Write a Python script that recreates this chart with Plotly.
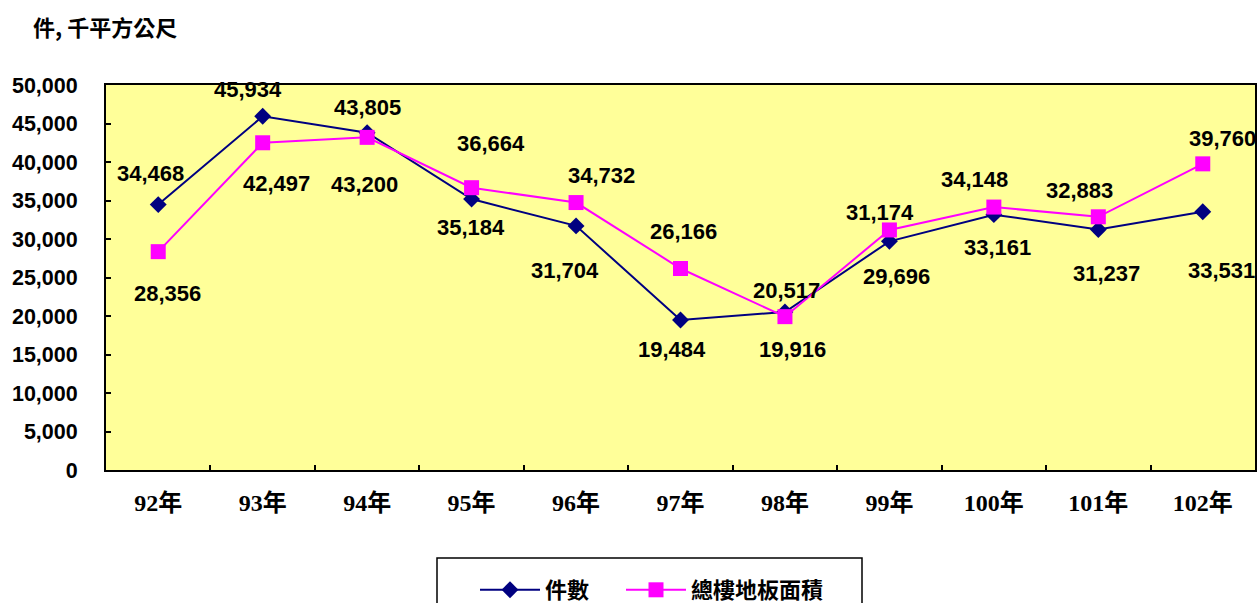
import plotly.graph_objects as go

categories = ["92年", "93年", "94年", "95年", "96年", "97年", "98年", "99年", "100年", "101年", "102年"]
cases = [34468, 45934, 43805, 35184, 31704, 19484, 20517, 29696, 33161, 31237, 33531]
floor_area = [28356, 42497, 43200, 36664, 34732, 26166, 19916, 31174, 34148, 32883, 39760]
series_names = ["件數", "總樓地板面積"]
y_ticks = [0, 5000, 10000, 15000, 20000, 25000, 30000, 35000, 40000, 45000, 50000]

# label offsets (pixels) for data labels
cases_dx = [-8, -15, 0, -1, -11, -9, 2, 7, 4, 8, 19]
cases_dy = [31, 27, 25, -28, -45, -30, 22, -35, -33, -44, -59]
area_dx = [9, 14, -3, 19, 25, 3, 8, -9, -19, -19, 20]
area_dy = [-42, -41, -47, 44, 27, 37, -33, 17, 28, 26, 25]

NUM_FONT = "Liberation Sans, Arial, Noto Sans CJK TC, sans-serif"
CAT_FONT = "Liberation Serif, Times New Roman, Noto Sans CJK TC, serif"
CJK_FONT = "Noto Sans CJK TC, sans-serif"

W, H = 1258, 603
ML, MR, MT, MB = 106, 3, 85, 133
PW, PH = W - ML - MR, H - MT - MB

fig = go.Figure()
fig.add_trace(go.Scatter(
    x=categories, y=cases, name=series_names[0], mode="lines+markers",
    line=dict(color="#000080", width=2),
    marker=dict(symbol="diamond", size=13, color="#000080"),
    legendwidth=71,
))
fig.add_trace(go.Scatter(
    x=categories, y=floor_area, name=series_names[1], mode="lines+markers",
    line=dict(color="#FF00FF", width=2),
    marker=dict(symbol="square", size=15, color="#FF00FF"),
    legendwidth=150,
))

annotations = []
for vals, dxs, dys in [(cases, cases_dx, cases_dy), (floor_area, area_dx, area_dy)]:
    for c, v, dx, dy in zip(categories, vals, dxs, dys):
        annotations.append(dict(
            x=c, y=v, xref="x", yref="y", text=f"{v:,}", showarrow=False,
            xanchor="center", yanchor="middle", xshift=dx, yshift=dy,
            font=dict(family=NUM_FONT, size=22, color="black", weight="bold"),
        ))

annotations.append(dict(
    xref="paper", yref="paper", x=(31 - ML) / PW, y=(H - MB - 26) / PH,
    xanchor="left", yanchor="middle", showarrow=False, text="件, 千平方公尺",
    font=dict(family=CJK_FONT, size=22, color="black", weight="bold"),
))

# legend frame
shapes = [dict(
    type="rect", xref="paper", yref="paper",
    x0=(437 - ML) / PW, x1=(862 - ML) / PW,
    y0=(H - MB - 558) / PH, y1=(H - MB - 640) / PH,
    line=dict(color="black", width=1.5), fillcolor="white", layer="above",
)]

fig.update_layout(
    width=W, height=H,
    margin=dict(l=ML, r=MR, t=MT, b=MB, autoexpand=False),
    paper_bgcolor="white", plot_bgcolor="#FFFF99",
    showlegend=True,
    legend=dict(
        orientation="h", xref="container", yref="container",
        x=475 / W, y=1 - 569 / H,
        xanchor="left", yanchor="top",
        borderwidth=0, bgcolor="rgba(0,0,0,0)",
        font=dict(family=CJK_FONT, size=22, color="black", weight="bold"),
        itemwidth=60,
    ),
    annotations=annotations,
    shapes=shapes,
)
fig.update_xaxes(
    type="category", range=[-0.5, len(categories) - 0.5],
    showline=True, linecolor="black", linewidth=2, mirror=True,
    ticks="inside", tickson="boundaries", ticklen=5, tickcolor="black", tickwidth=2,
    showgrid=False, zeroline=False, automargin=False,
    tickfont=dict(family=CAT_FONT, size=24, color="black", weight="bold"),
    ticklabelstandoff=10,
)
fig.update_yaxes(
    range=[0, 50000], tickvals=y_ticks, tickformat=",d",
    showline=True, linecolor="black", linewidth=2, mirror=True,
    ticks="inside", ticklen=5, tickcolor="black", tickwidth=2,
    showgrid=False, zeroline=False, automargin=False,
    tickfont=dict(family=NUM_FONT, size=21.5, color="black", weight="bold"),
    ticklabelstandoff=22,
)

fig.write_html(
    "out.html",
    config={"displayModeBar": False},
    post_script="document.body.style.margin='0';document.body.style.overflow='hidden';",
)
